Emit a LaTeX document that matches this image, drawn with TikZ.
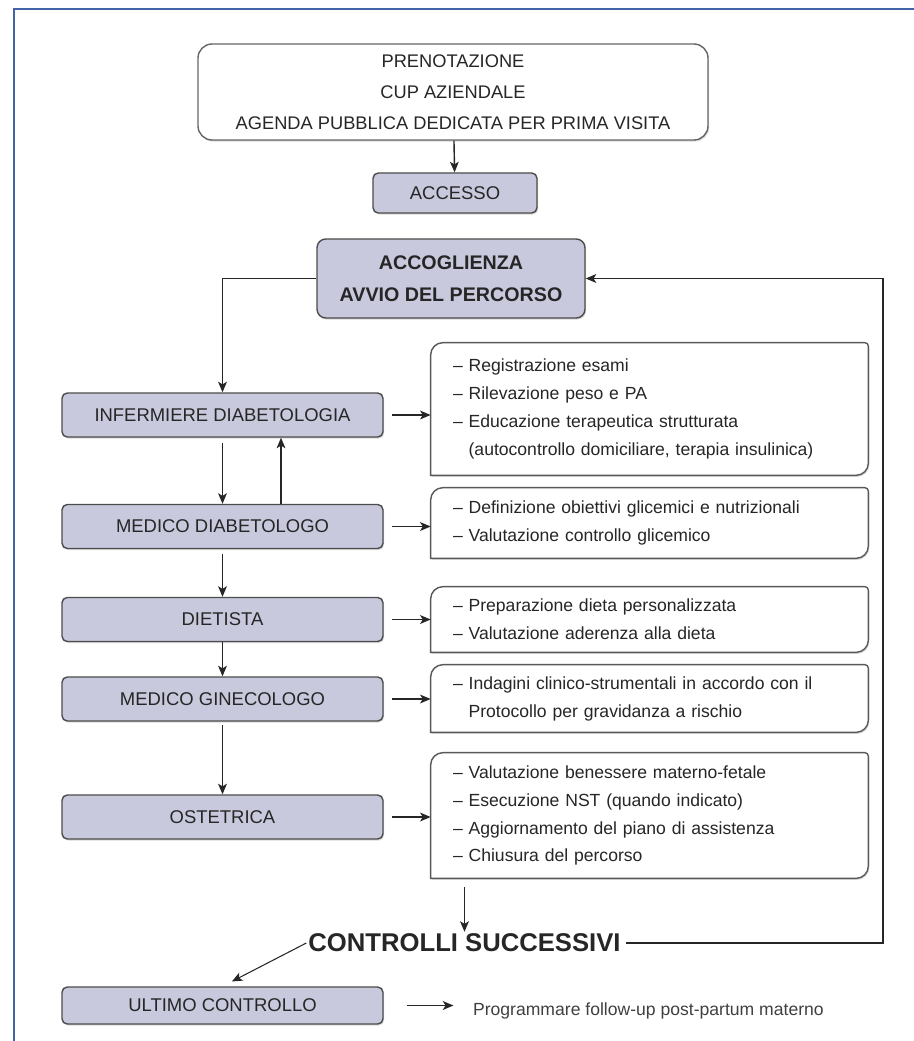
\documentclass[tikz,border=0pt]{standalone}
\usepackage{fontspec}
\setmainfont{Liberation Sans}
\usetikzlibrary{arrows.meta,shadows,backgrounds}
\definecolor{boxfill}{RGB}{200,201,221}
\definecolor{frameblue}{RGB}{68,100,170}

\begin{document}
\begin{tikzpicture}[
    flow/.style={-{Stealth[length=6pt,width=5pt,inset=1.5pt]}, line width=0.8pt, draw=black!85},
    shade/.style={drop shadow={shadow xshift=0.6pt, shadow yshift=-0.9pt, opacity=0.3}},
    block/.style={draw=black!70, line width=0.8pt, align=center, inner sep=2pt, text=black!85},
    role/.style={block, shade, fill=boxfill, rounded corners=3pt,
                 minimum width=6.42cm, minimum height=0.88cm,
                 font=\fontsize{10.5}{12}\selectfont},
    note/.style={align=left, inner xsep=0.44cm, text width=7.86cm, text=black!85,
                 font=\fontsize{10}{15.9}\selectfont},
    noteframe/.style={draw=black!65, line width=0.8pt, fill=white, shade}
  ]
  \useasboundingbox (0,0) rectangle (18.26,-20.82);
  \draw[frameblue, line width=1.1pt] (0.28,-21) -- (0.28,-0.18) -- (18.4,-0.18);

  \node[block, shade, fill=white, draw=black!60, rounded corners=8pt,
        minimum width=10.2cm, minimum height=1.92cm,
        font=\fontsize{10.4}{17.6}\selectfont] (booking) at (9.06,-1.84)
    {PRENOTAZIONE\\CUP AZIENDALE\\AGENDA PUBBLICA DEDICATA PER PRIMA VISITA};
  \node[role, minimum width=3.28cm, minimum height=0.8cm] (access) at (9.1,-3.86) {ACCESSO};
  \node[role, minimum width=5.36cm, minimum height=1.58cm, rounded corners=5pt,
        font=\bfseries\fontsize{11.2}{18.1}\selectfont] (welcome) at (9.02,-5.57)
    {ACCOGLIENZA\\AVVIO DEL PERCORSO};

  \draw[flow] (booking) -- (access);

  % percorso: figure professionali
  \node[role] (nurse) at (4.45,-8.3) {INFERMIERE DIABETOLOGIA};
  \node[role] (diabdoc) at (4.45,-10.53) {MEDICO DIABETOLOGO};
  \node[role] (dietitian) at (4.45,-12.39) {DIETISTA};
  \node[role] (gyneco) at (4.45,-13.98) {MEDICO GINECOLOGO};
  \node[role] (midwife) at (4.45,-16.34) {OSTETRICA};
  \node[role, minimum height=0.74cm] (lastcheck) at (4.45,-20.11) {ULTIMO CONTROLLO};

  % attivita
  \node[note, minimum height=2.64cm] (nursetasks) at (12.99,-8.18)
    {– Registrazione esami\\
     – Rilevazione peso e PA\\
     – Educazione terapeutica strutturata\\
     \hphantom{– }(autocontrollo domiciliare, terapia insulinica)};
  \node[note, minimum height=1.4cm] (diabtasks) at (12.99,-10.46)
    {– Definizione obiettivi glicemici e nutrizionali\\
     – Valutazione controllo glicemico};
  \node[note, minimum height=1.3cm] (diettasks) at (12.99,-12.39)
    {– Preparazione dieta personalizzata\\
     – Valutazione aderenza alla dieta};
  \node[note, minimum height=1.34cm] (gynecotasks) at (12.99,-13.97)
    {– Indagini clinico-strumentali in accordo con il\\
     \hphantom{– }Protocollo per gravidanza a rischio};
  \node[note, minimum height=2.5cm] (midwifetasks) at (12.99,-16.31)
    {– Valutazione benessere materno-fetale\\
     – Esecuzione NST (quando indicato)\\
     – Aggiornamento del piano di assistenza\\
     – Chiusura del percorso};

  \begin{scope}[on background layer]
    \foreach \n in {nursetasks,diabtasks,diettasks,gynecotasks,midwifetasks}
      \draw[noteframe] (\n.south west) -- ([yshift=-7pt]\n.north west)
        arc[start angle=180, end angle=90, radius=7pt] -- ([xshift=-2pt]\n.north east)
        arc[start angle=90, end angle=0, radius=2pt] -- ([yshift=7pt]\n.south east)
        arc[start angle=0, end angle=-90, radius=7pt] -- cycle;
  \end{scope}

  \node[font=\bfseries\fontsize{14.6}{16}\selectfont, text=black!85, inner sep=1pt]
    (controls) at (9.29,-18.86) {CONTROLLI SUCCESSIVI};
  \node[anchor=west, inner sep=1pt, text=black!75, font=\fontsize{10}{12}\selectfont]
    (followup) at (9.42,-20.22) {Programmare follow-up post-partum materno};

  \draw[flow] (welcome.west) -| (nurse.north);
  \draw[flow, shorten <=3pt] (nurse) -- (diabdoc);
  \draw[flow] ([xshift=1.17cm]diabdoc.north) -- ([xshift=1.17cm]nurse.south);
  \draw[flow, shorten <=3pt] (diabdoc) -- (dietitian);
  \draw[flow] (dietitian) -- (gyneco);
  \draw[flow, shorten <=2pt] (gyneco) -- (midwife);

  \draw[flow, shorten <=5pt] (nurse.east) -- (nurse.east -| nursetasks.west);
  \draw[flow, shorten <=5pt] (diabdoc.east) -- (diabdoc.east -| diabtasks.west);
  \draw[flow, shorten <=5pt] (dietitian.east) -- (dietitian.east -| diettasks.west);
  \draw[flow, shorten <=5pt] (gyneco.east) -- (gyneco.east -| gynecotasks.west);
  \draw[flow, shorten <=5pt] (midwife.east) -- (midwife.east -| midwifetasks.west);

  \draw[flow, shorten <=5pt] (controls.north |- midwifetasks.south) -- (controls.north);
  \coordinate (loopcorner) at (17.66,-18.86);
  \draw[flow, shorten <=2pt] (controls.east) -- (loopcorner) |- (welcome.east);
  \draw[flow, line width=0.6pt, shorten >=6pt] (controls.west) -- (lastcheck.north);
  \draw[flow, line width=1pt, shorten <=13pt, shorten >=10pt]
    (lastcheck.east) -- (lastcheck.east -| followup.west);
\end{tikzpicture}
\end{document}
